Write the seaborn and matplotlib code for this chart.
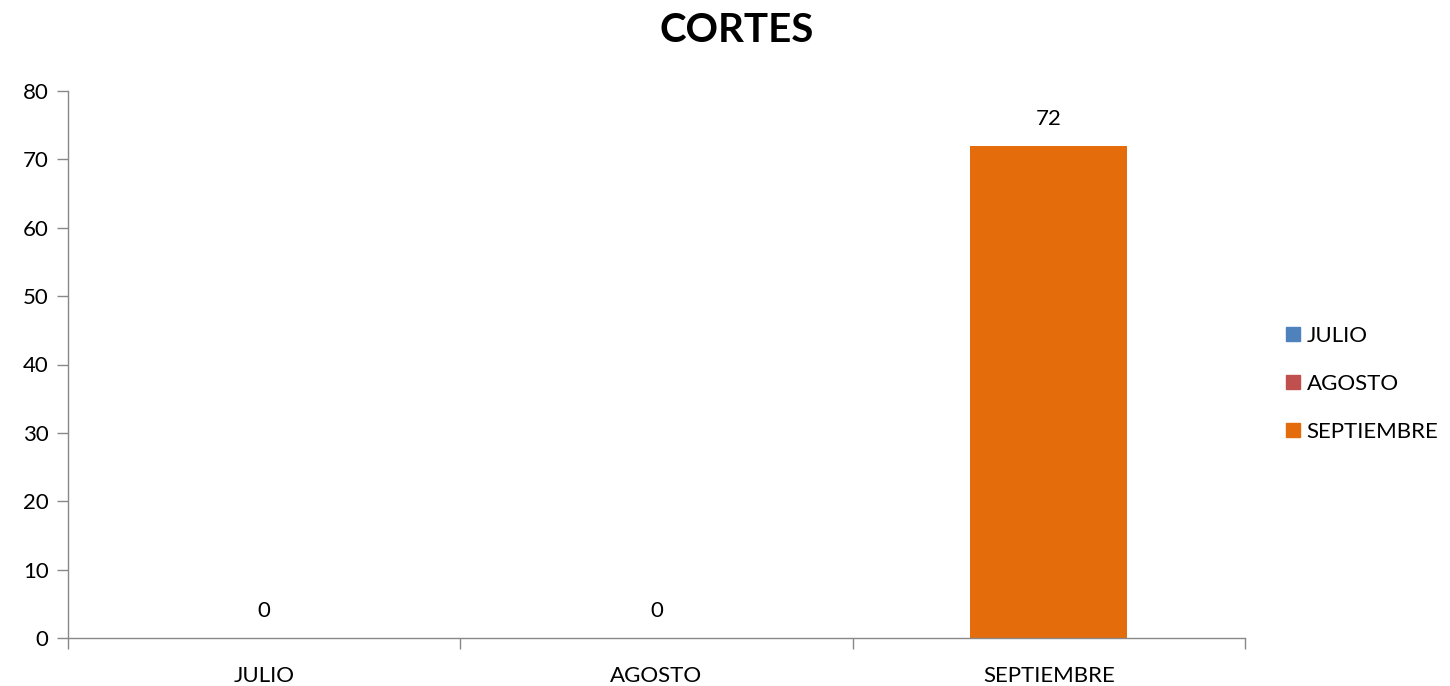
import matplotlib
matplotlib.use("Agg")
import matplotlib.pyplot as plt
import seaborn as sns
import pandas as pd
from matplotlib.lines import Line2D

categories = ["JULIO", "AGOSTO", "SEPTIEMBRE"]
values = [0, 0, 72]
colors = ["#4F81BD", "#C0504D", "#E46C0A"]

sns.set_style("white")
plt.rcParams['font.family'] = ['Lato', 'DejaVu Sans']
plt.rcParams['text.color'] = 'black'
plt.rcParams['xtick.color'] = 'black'
plt.rcParams['ytick.color'] = 'black'

df = pd.DataFrame({"mes": categories, "cortes": values})

fig = plt.figure(figsize=(14.5, 6.86), dpi=100)
ax = fig.add_axes([68/1450, 48/686, (1245-68)/1450, (638-91)/686])

sns.barplot(data=df, x="mes", y="cortes", hue="mes", palette=colors,
            dodge=False, width=0.4, legend=False, ax=ax, saturation=1,
            linewidth=0)

ax.set_ylim(0, 80)
ax.set_xlim(-0.5, 2.5)
ax.set_yticks(range(0, 81, 10))
ax.tick_params(axis="y", left=True, labelsize=16, length=8, color="#888888",
               labelcolor="black", width=1, pad=6)
ax.set_xticks([-0.5, 0.5, 1.5, 2.5])
ax.set_xticklabels([])
ax.set_xticks(range(len(categories)), minor=True)
ax.set_xticklabels(categories, minor=True)
ax.tick_params(axis="x", which="major", bottom=True, length=8, color="#888888",
               width=1, direction="out")
ax.tick_params(axis="x", which="minor", bottom=True, length=0, labelsize=16,
               labelcolor="black", pad=20)
ax.set_xlabel("")
ax.set_ylabel("")
for s in ["top", "right"]:
    ax.spines[s].set_visible(False)
for s in ["left", "bottom"]:
    ax.spines[s].set_color("#888888")
    ax.spines[s].set_linewidth(1)

for i, v in enumerate(values):
    ax.annotate(str(v), (i, v), xytext=(0, 12), textcoords="offset points",
                ha="center", va="bottom", fontsize=16, color="black")

fig.text(737/1450, 1 - 30/686, "CORTES", ha="center", va="center",
         fontsize=29, fontweight="bold", color="black")

handles = [Line2D([], [], marker="s", linestyle="none", markersize=10,
                  markerfacecolor=c, markeredgecolor=c) for c in colors]
fig.legend(handles, categories, loc="center left",
           bbox_to_anchor=(1260/1450, 1 - 384/686), frameon=False,
           fontsize=16, labelspacing=1.25, handletextpad=0.0, handlelength=1.2,
           labelcolor="black")

fig.savefig("out.png", dpi=100)
